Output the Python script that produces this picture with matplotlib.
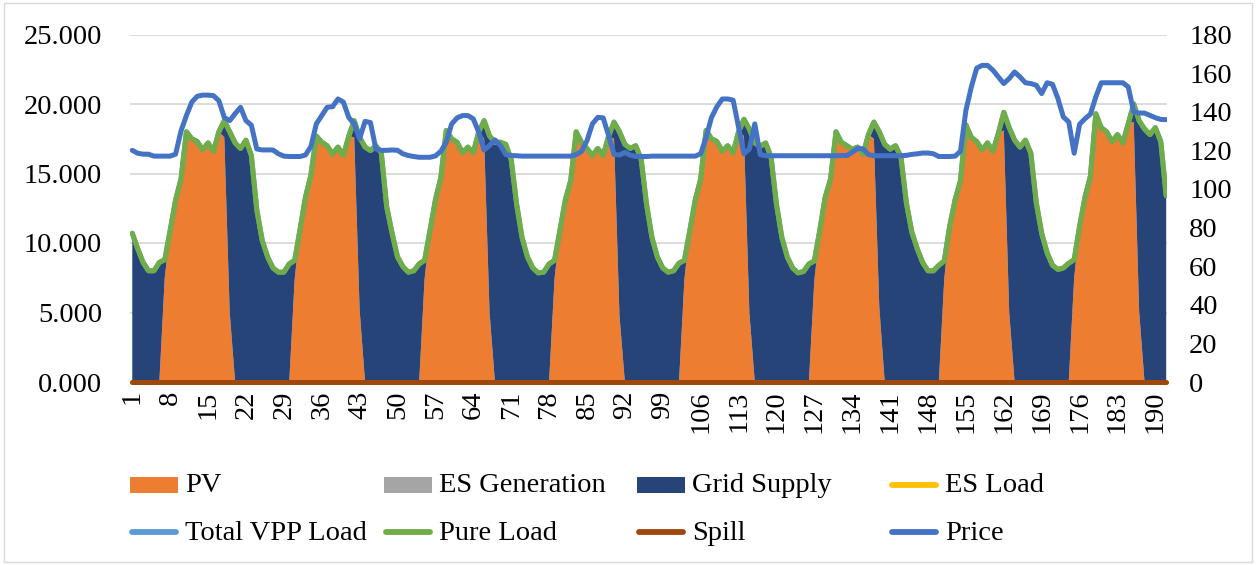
import numpy as np
import matplotlib
matplotlib.use("Agg")
import matplotlib.pyplot as plt
from matplotlib.patches import Rectangle
from matplotlib.lines import Line2D

plt.rcParams['font.family'] = ['Liberation Serif', 'DejaVu Serif']

# ---- hourly data, 8 days x 24 hours ----
load_day1 = [10.7, 9.6, 8.6, 8.0, 8.0, 8.6, 8.8, 10.9, 13.1, 14.6, 18.0, 17.5, 17.3, 16.7, 17.2, 16.6, 18.0, 18.8, 18.0, 17.2, 16.8, 17.4, 16.3, 12.4]
load_day2 = [10.2, 9.0, 8.2, 7.9, 7.9, 8.5, 8.75, 11.0, 13.3, 14.9, 17.7, 17.25, 17.0, 16.4, 16.9, 16.3, 17.7, 18.8, 17.6, 16.9, 16.65, 17.0, 16.5, 12.6]
load_day3 = [10.7, 9.0, 8.3, 7.9, 8.0, 8.5, 8.75, 10.9, 13.1, 14.7, 18.1, 17.5, 17.25, 16.5, 16.9, 16.5, 18.0, 18.8, 17.7, 17.25, 17.25, 17.1, 16.0, 12.8]
load_day4 = [10.4, 9.0, 8.2, 7.85, 7.9, 8.5, 8.75, 10.9, 13.1, 14.5, 18.0, 17.25, 16.8, 16.3, 16.8, 16.3, 17.7, 18.7, 18.0, 17.1, 16.8, 17.0, 16.05, 12.8]
load_day5 = [10.4, 9.0, 8.2, 7.9, 8.0, 8.55, 8.75, 10.9, 13.1, 14.6, 18.1, 17.5, 17.3, 16.6, 17.0, 16.5, 18.0, 18.9, 18.2, 17.2, 16.95, 17.2, 16.2, 12.8]
load_day6 = [10.4, 9.0, 8.2, 7.85, 7.95, 8.5, 8.7, 10.9, 13.3, 14.6, 18.0, 17.25, 17.0, 16.75, 16.9, 16.4, 17.8, 18.7, 18.0, 17.1, 16.75, 17.0, 16.2, 12.9]
load_day7 = [10.8, 9.6, 8.6, 8.0, 8.0, 8.4, 8.7, 11.2, 13.1, 14.5, 18.5, 17.6, 17.3, 16.7, 17.2, 16.6, 17.9, 19.4, 18.3, 17.4, 16.9, 17.4, 16.45, 12.9]
load_day8 = [10.7, 9.3, 8.4, 8.1, 8.2, 8.55, 8.8, 11.2, 13.3, 14.8, 19.3, 18.3, 18.0, 17.3, 17.8, 17.2, 18.6, 20.0, 18.8, 18.2, 17.8, 18.3, 17.3, 13.4]

pv_day1 = [0, 0, 0, 0, 0, 0, 7.5, 10.9, 13.1, 14.6, 18.0, 17.5, 17.3, 16.7, 17.2, 16.6, 18.0, 17.6, 5.0, 0, 0, 0, 0, 0]
pv_day2 = [0, 0, 0, 0, 0, 0, 7.4, 11.0, 13.3, 14.9, 17.7, 17.25, 17.0, 16.4, 16.9, 16.3, 17.7, 17.6, 5.2, 0, 0, 0, 0, 0]
pv_day3 = [0, 0, 0, 0, 0, 0, 7.4, 10.9, 13.1, 14.7, 18.1, 17.5, 17.25, 16.5, 16.9, 16.5, 18.0, 17.5, 5.0, 0, 0, 0, 0, 0]
pv_day4 = [0, 0, 0, 0, 0, 0, 7.4, 10.9, 13.1, 14.5, 18.0, 17.25, 16.8, 16.3, 16.8, 16.3, 17.7, 17.5, 4.8, 0, 0, 0, 0, 0]
pv_day5 = [0, 0, 0, 0, 0, 0, 7.4, 10.9, 13.1, 14.6, 18.1, 17.5, 17.3, 16.6, 17.0, 16.5, 18.0, 17.7, 5.0, 0, 0, 0, 0, 0]
pv_day6 = [0, 0, 0, 0, 0, 0, 7.3, 10.9, 13.3, 14.6, 18.0, 17.25, 17.0, 16.75, 16.9, 16.4, 17.8, 17.5, 5.4, 0, 0, 0, 0, 0]
pv_day7 = [0, 0, 0, 0, 0, 0, 7.4, 11.2, 13.1, 14.5, 18.5, 17.6, 17.3, 16.7, 17.2, 16.6, 17.9, 18.1, 5.0, 0, 0, 0, 0, 0]
pv_day8 = [0, 0, 0, 0, 0, 0, 7.5, 11.2, 13.3, 14.8, 19.3, 18.3, 18.0, 17.3, 17.8, 17.2, 18.6, 18.7, 5.1, 0, 0, 0, 0, 0]

price_day1 = [120, 118.5, 118, 118, 117, 117, 117, 117, 118, 130, 138, 145, 148, 148.6, 148.6, 148.3, 145.7, 137, 135.4, 139, 142.3, 135.4, 133, 120.7]
price_day2 = [120.2, 120.2, 120.2, 118.2, 117, 116.8, 116.8, 116.8, 117.6, 122, 133.7, 138, 142.3, 142.6, 146.6, 145, 137, 133.7, 126, 135, 134.4, 120.7, 120, 120]
price_day3 = [120.2, 120, 118.2, 117.3, 116.8, 116.4, 116.4, 116.4, 117.1, 119.5, 124.2, 133.7, 136.8, 138, 138, 136.3, 129.4, 120.2, 122.5, 125.4, 122.5, 117.8, 117.3, 117.2]
price_day4 = [117, 117, 117, 117, 117, 117, 117, 117, 117, 117, 117.8, 119.5, 125, 133.7, 137.1, 136.8, 127.6, 117.8, 117.6, 118.9, 117.5, 116.8, 116.8, 116.8]
price_day5 = [117, 117, 117, 117, 117, 117, 117, 117, 117, 118.2, 126.7, 137, 142.6, 146.6, 146.6, 146, 132, 118.2, 120.7, 133.7, 117.8, 117.2, 117.2, 117.2]
price_day6 = [117.2, 117.2, 117.2, 117.2, 117.2, 117.2, 117.2, 117.2, 117.2, 117.2, 117.2, 117.3, 117.3, 119, 121, 120.7, 117.8, 117.2, 117.2, 117.2, 117.2, 117.2, 117.2, 117.4]
price_day7 = [117.9, 118.2, 118.6, 118.6, 118.2, 116.8, 116.8, 116.8, 117, 119.5, 140.7, 152.8, 162.6, 164, 164, 161.5, 158, 154.6, 157.2, 160.6, 158, 155, 154.6, 153.7]
price_day8 = [149.4, 155, 154.2, 146.8, 137.3, 134.7, 118.5, 133.5, 136.4, 138.7, 147.7, 155, 155, 155, 155, 155, 152.8, 139.9, 139.3, 139.3, 138.1, 136.9, 136, 135.9]

pure_load = np.concatenate([load_day1, load_day2, load_day3, load_day4,
                            load_day5, load_day6, load_day7, load_day8])
pv = np.concatenate([pv_day1, pv_day2, pv_day3, pv_day4,
                     pv_day5, pv_day6, pv_day7, pv_day8])
price = np.concatenate([price_day1, price_day2, price_day3, price_day4,
                        price_day5, price_day6, price_day7, price_day8])

hours = np.arange(1, len(pure_load) + 1)
es_generation = np.zeros(len(hours))
es_load = np.zeros(len(hours))
spill = np.zeros(len(hours))
grid_supply = pure_load - pv - es_generation
total_vpp_load = pure_load + es_load

# ---- colours ----
C_PV = '#ED7D31'
C_ESGEN = '#A5A5A5'
C_GRID = '#264478'
C_ESLOAD = '#FFC000'
C_VPP = '#5B9BD5'
C_PURE = '#70AD47'
C_SPILL = '#9E480E'
C_PRICE = '#4472C4'
C_GRIDLINE = '#D9D9D9'

FS = 20.5
W, H = 1257, 565

fig = plt.figure(figsize=(W / 100, H / 100), dpi=100)


def fx(px):
    return px / W


def fy(py):
    return 1 - py / H


ax_l, ax_r, ax_t, ax_b = 130, 1167, 34.5, 382
ax = fig.add_axes([fx(ax_l), fy(ax_b), fx(ax_r - ax_l), (ax_b - ax_t) / H])

ax.stackplot(hours, pv, es_generation, grid_supply,
             colors=[C_PV, C_ESGEN, C_GRID], linewidth=0, zorder=2)

line_kw = dict(lw=3.6, solid_capstyle='round', solid_joinstyle='round')
ax.plot(hours, es_load, color=C_ESLOAD, zorder=3, clip_on=False, **line_kw)
ax.plot(hours, total_vpp_load, color=C_VPP, zorder=3, **line_kw)
ax.plot(hours, pure_load, color=C_PURE, zorder=4, **line_kw)
ax.plot(hours, spill, color=C_SPILL, zorder=5, clip_on=False, **line_kw)

ax.set_xlim(0.58, 192.15)
ax.set_ylim(0, 25)
ax.set_yticks(np.arange(0, 26, 5))
ax.set_yticklabels([f"{v:.3f}" for v in np.arange(0, 26, 5)])
ax.yaxis.grid(True, color=C_GRIDLINE, lw=1.3)
ax.set_axisbelow(True)
ax.set_xticks(hours[::7])
ax.set_xticklabels([str(h) for h in hours[::7]], rotation=90)
ax.tick_params(axis='y', length=0, pad=20, labelsize=FS)
ax.tick_params(axis='x', length=0, pad=6, labelsize=FS)
for s in ax.spines.values():
    s.set_visible(False)

ax2 = ax.twinx()
ax2.plot(hours, price, color=C_PRICE, zorder=5, **line_kw)
ax2.set_ylim(0, 180)
ax2.set_yticks(np.arange(0, 181, 20))
ax2.tick_params(axis='y', length=0, pad=16, labelsize=FS)
for s in ax2.spines.values():
    s.set_visible(False)

# ---- legend, two rows of four equally spaced entries ----
entries = [
    ('PV', 'patch', C_PV), ('ES Generation', 'patch', C_ESGEN),
    ('Grid Supply', 'patch', C_GRID), ('ES Load', 'line', C_ESLOAD),
    ('Total VPP Load', 'line', C_VPP), ('Pure Load', 'line', C_PURE),
    ('Spill', 'line', C_SPILL), ('Price', 'line', C_PRICE),
]
col_x = [130, 384, 637, 890]
row_y = [485, 532]
key_w = 48
for k, (label, kind, color) in enumerate(entries):
    x0 = col_x[k % 4]
    yc = row_y[k // 4]
    if kind == 'patch':
        fig.add_artist(Rectangle((fx(x0), fy(yc + 8)), fx(key_w), 16 / H,
                                 transform=fig.transFigure, facecolor=color,
                                 edgecolor='none'))
    else:
        fig.add_artist(Line2D([fx(x0 + 2), fx(x0 + key_w - 2)], [fy(yc), fy(yc)],
                              transform=fig.transFigure, color=color,
                              lw=4.2, solid_capstyle='round'))
    fig.text(fx(x0 + key_w + 7), fy(yc + 1), label, ha='left', va='center',
             fontsize=FS)

# chart border
fig.add_artist(Rectangle((fx(4), fy(562)), fx(1248), 559 / H,
                         transform=fig.transFigure, fill=False,
                         edgecolor=C_GRIDLINE, lw=1))

fig.savefig('out.png', dpi=100)
